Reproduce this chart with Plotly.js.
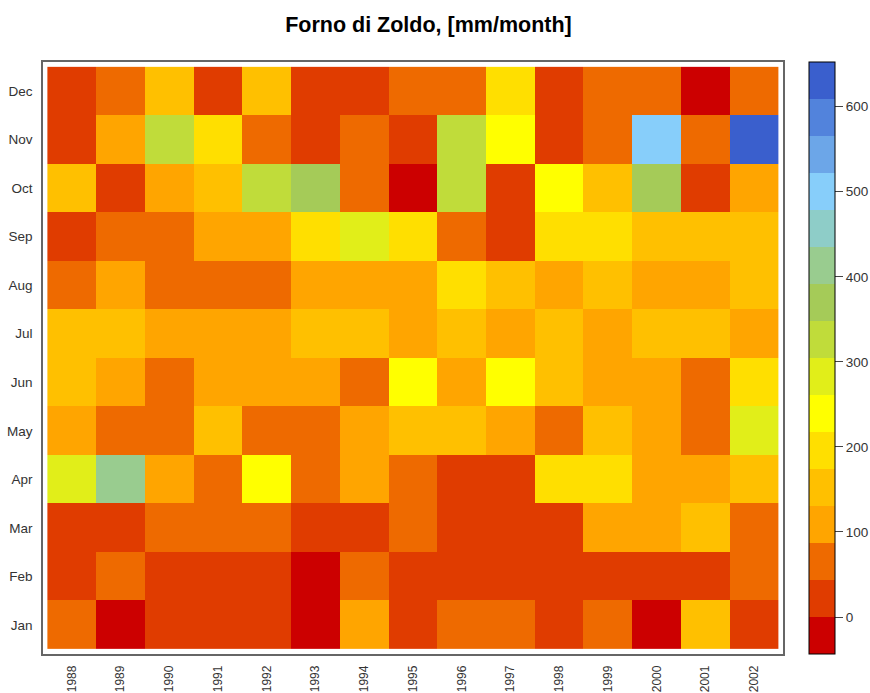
<!DOCTYPE html>
<html>
<head>
<meta charset="utf-8">
<script src="https://cdn.plot.ly/plotly-3.0.1.min.js"></script>
<style>
  html, body { margin: 0; padding: 0; background: #fff; }
  #chart { width: 870px; height: 693px; }
</style>
</head>
<body>
<div id="chart"></div>
<script>
// Monthly precipitation at Forno di Zoldo, 1988-2002 (mm/month)
const years = ['1988', '1989', '1990', '1991', '1992', '1993', '1994', '1995',
               '1996', '1997', '1998', '1999', '2000', '2001', '2002'];
const months = ['Jan', 'Feb', 'Mar', 'Apr', 'May', 'Jun',
                'Jul', 'Aug', 'Sep', 'Oct', 'Nov', 'Dec'];

const jan = [62, -12, 28, 22, 30, -8, 112, 25, 70, 68, 20, 60, -15, 155, 18];
const feb = [24, 58, 18, 15, 20, -10, 66, 30, 22, 19, 26, 28, 33, 21, 72];
const mar = [30, 35, 64, 70, 58, 25, 32, 75, 20, 16, 38, 118, 105, 140, 60];
const apr = [282, 405, 115, 62, 238, 66, 108, 78, 24, 30, 190, 185, 120, 110, 150];
const may = [112, 70, 60, 145, 68, 74, 120, 160, 152, 106, 55, 148, 110, 64, 290];
const jun = [140, 115, 62, 100, 118, 112, 66, 245, 108, 230, 146, 122, 104, 70, 200];
const jul = [150, 155, 112, 108, 120, 144, 158, 116, 138, 122, 142, 118, 150, 160, 110];
const aug = [72, 118, 64, 60, 75, 110, 104, 120, 186, 148, 124, 152, 115, 106, 140];
const sep = [35, 58, 70, 124, 112, 195, 275, 188, 60, 22, 205, 190, 168, 160, 146];
const oct = [152, 20, 115, 144, 318, 362, 68, -18, 330, 30, 232, 150, 372, 28, 110];
const nov = [26, 108, 322, 198, 72, 34, 62, 40, 312, 250, 18, 66, 495, 58, 640];
const dec = [20, 64, 160, 32, 148, 18, 26, 70, 78, 200, 22, 68, 60, -22, 72];

const colorTicks = [0, 100, 200, 300, 400, 500, 600];

// 16 discrete colour classes, low to high
const palette = ['#CC0000', '#E03C00', '#EE6A00', '#FFA500', '#FFC000', '#FFDF00',
                 '#FFFF00', '#E1EE19', '#C0DC3A', '#A5CB58', '#99CC8F', '#8ECDC8',
                 '#87CEFA', '#6CA6E8', '#5283DC', '#3A5FCD'];
const zMin = -43.5, zMax = 652.5;

const colorscale = [];
palette.forEach((c, i) => {
  colorscale.push([i / palette.length, c]);
  colorscale.push([(i + 1) / palette.length, c]);
});

const z = [jan, feb, mar, apr, may, jun, jul, aug, sep, oct, nov, dec];

const font = 'Liberation Sans, Arial, sans-serif';

const trace = {
  type: 'heatmap',
  x: years,
  y: months,
  z: z,
  zmin: zMin,
  zmax: zMax,
  colorscale: colorscale,
  xgap: 0,
  ygap: 0,
  colorbar: {
    thickness: 26,
    len: 1,
    lenmode: 'fraction',
    y: 0.5,
    yanchor: 'middle',
    ypad: 0,
    x: 1.035,
    xanchor: 'left',
    xpad: 0,
    outlinewidth: 1,
    outlinecolor: '#000',
    ticks: 'outside',
    ticklen: 8,
    tickcolor: '#444',
    tickvals: colorTicks,
    ticktext: colorTicks.map(String),
    tickfont: { family: font, size: 13.5, color: '#333' }
  },
  hovertemplate: '%{y} %{x}: %{z} mm<extra></extra>'
};

const layout = {
  width: 870,
  height: 693,
  margin: { l: 43, r: 87, t: 62, b: 39, autoexpand: false },
  paper_bgcolor: '#fff',
  plot_bgcolor: '#fff',
  title: {
    text: 'Forno di Zoldo, [mm/month]',
    font: { family: font, size: 21.5, color: '#000', weight: 'bold' },
    x: 0.4925,
    xref: 'container',
    xanchor: 'center',
    y: 0.964,
    yref: 'container',
    yanchor: 'middle'
  },
  xaxis: {
    type: 'category',
    range: [-0.59, 14.59],
    showgrid: false,
    zeroline: false,
    automargin: false,
    ticks: 'outside',
    ticklen: 5,
    tickcolor: 'rgba(0,0,0,0)',
    tickangle: -90,
    tickfont: { family: font, size: 12, color: '#333' },
    showline: true,
    mirror: true,
    linecolor: '#666',
    linewidth: 1.5
  },
  yaxis: {
    type: 'category',
    range: [-0.6, 11.6],
    showgrid: false,
    zeroline: false,
    automargin: false,
    ticks: 'outside',
    ticklen: 6,
    tickcolor: 'rgba(0,0,0,0)',
    tickfont: { family: font, size: 13.5, color: '#333' },
    showline: true,
    mirror: true,
    linecolor: '#666',
    linewidth: 1.5
  }
};

Plotly.newPlot('chart', [trace], layout, { displayModeBar: false, responsive: false });
</script>
</body>
</html>
